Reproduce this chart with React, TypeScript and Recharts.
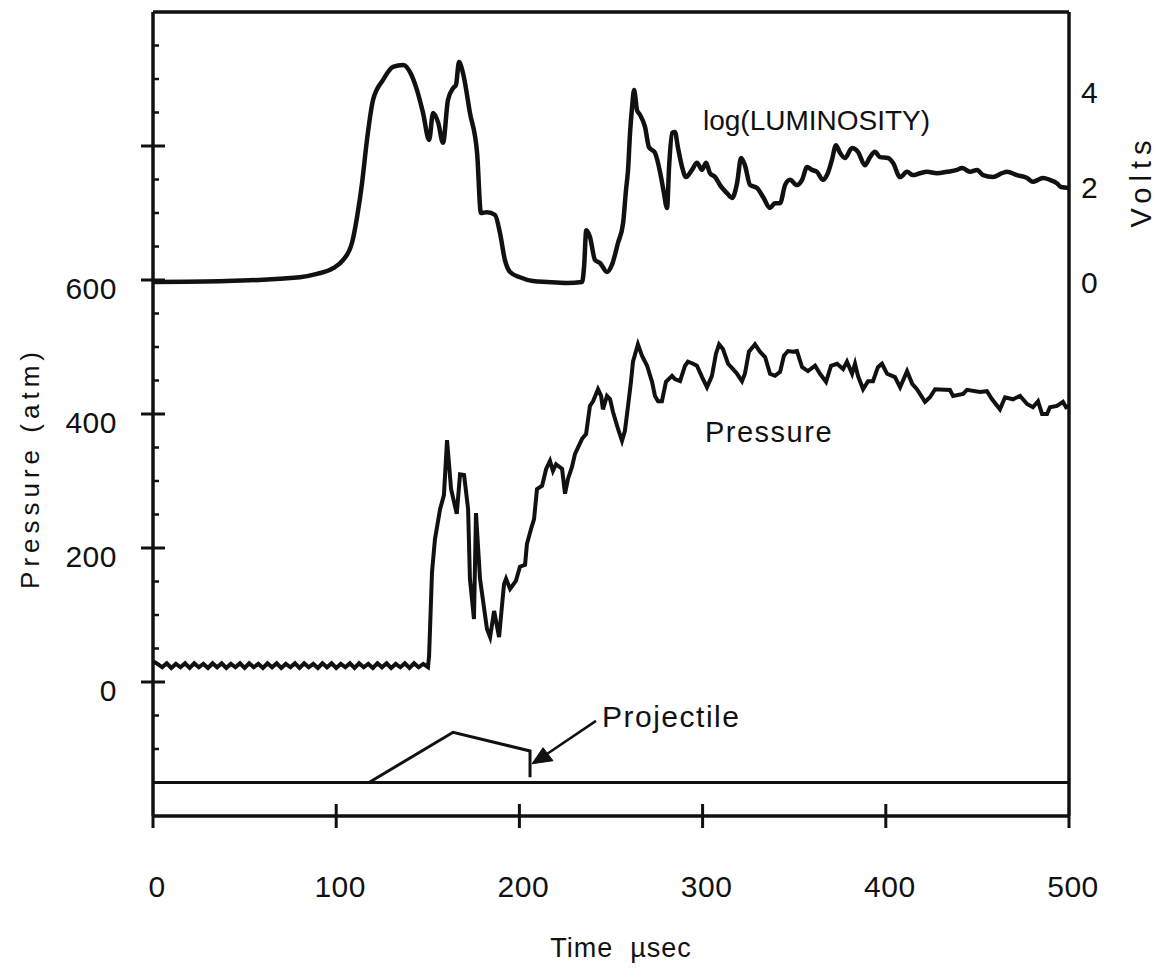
import React from "react";
import {
  LineChart,
  Line,
  XAxis,
  YAxis,
  ReferenceLine,
  ReferenceDot,
  Label,
} from "recharts";

const FONT = '"Liberation Sans", Arial, Helvetica, sans-serif';
const INK = "#111";

// axis ticks
const timeTicks = [0, 100, 200, 300, 400, 500];
const pressureTicks = [
  -100, -50, 0, 50, 100, 150, 200, 250, 300, 350, 400, 450, 500, 550, 600, 650, 700, 750, 800, 850,
  900, 950,
];
const pressureMajor = [0, 200, 400, 600, 800];
const pressureLabelled = [0, 200, 400, 600];
const voltTicks = [0, 2, 4];

// pressure trace (atm) vs time (usec)
const pressureTime = [
  0, 2.5, 5, 7.5, 10, 12.5, 15, 17.5, 20, 22.5, 25, 27.5, 30, 32.5, 35, 37.5, 40, 42.5, 45, 47.5,
  50, 52.5, 55, 57.5, 60, 62.5, 65, 67.5, 70, 72.5, 75, 77.5, 80, 82.5, 85, 87.5, 90, 92.5, 95, 97.5,
  100, 102.5, 105, 107.5, 110, 112.5, 115, 117.5, 120, 122.5, 125, 127.5, 130, 132.5, 135, 137.5,
  140, 142.5, 145, 147.5,
  150.1, 150.7, 152.3, 153.9, 156.7, 158.8, 160.5, 162.7, 165.8, 167.6, 169.8, 172.0, 173.0, 175.2,
  176.3, 178.5, 182.3, 184.0, 186.2, 188.9, 191.6, 192.7, 194.9, 198.1, 200.3, 203.1, 204.1, 206.3,
  208.0, 209.6, 212.4, 214.6, 216.7, 218.3, 220.0, 223.3, 224.9, 226.5, 228.7, 230.3, 234.2, 236.4,
  238.5, 240.2, 242.9, 244.6, 245.6, 247.8, 249.5, 251.1, 253.8, 256.0, 257.6, 259.3, 260.9, 262.0,
  264.7, 266.9, 269.7, 272.4, 274.0, 275.7, 277.8, 280.0, 283.3, 284.9, 287.7, 290.4, 292.0, 294.8,
  296.9, 299.7, 302.4, 305.1, 307.3, 309.0, 311.1, 313.9, 316.6, 318.8, 321.5, 323.1, 325.3, 328.6,
  331.3, 334.1, 336.8, 339.5, 342.3, 344.4, 346.6, 349.3, 351.5, 354.3, 357.5, 361.4, 364.1, 367.4,
  370.1, 373.4, 376.7, 378.8, 381.6, 383.2, 384.8, 387.6, 390.3, 393.0, 395.7, 397.9, 400.7, 403.4,
  405.0, 407.8, 411.6, 414.4, 417.0, 421.4, 424.1, 426.9, 435.0, 436.7, 442.2, 444.3, 451.4, 455.2,
  458.0, 462.3, 465.1, 469.4, 473.3, 477.1, 480.3, 483.1, 485.3, 488.0, 489.6, 493.4, 496.7, 498.4,
  500,
];
const pressureAtm = [
  31, 27, 22, 28, 21, 27, 22, 28, 21, 28, 22, 27, 21, 28, 22, 28, 21, 27, 22, 28,
  21, 28, 22, 27, 21, 28, 22, 28, 21, 27, 22, 28, 21, 28, 22, 27, 21, 28, 22, 28,
  21, 27, 22, 28, 21, 28, 22, 27, 21, 28, 22, 28, 21, 27, 22, 28, 21, 28, 22, 27,
  22, 39, 164, 213, 258, 279, 361, 288, 251, 310, 309, 258, 154, 94,
  252, 154, 79, 67, 106, 67, 146, 154, 139, 151, 172, 175, 206, 228,
  243, 288, 293, 318, 330, 315, 325, 318, 281, 303, 321, 340, 363, 370,
  412, 419, 437, 427, 407, 427, 422, 403, 378, 360, 375, 412, 448, 478,
  504, 487, 472, 448, 427, 419, 419, 448, 457, 452, 449, 472, 478, 475,
  472, 455, 440, 457, 490, 504, 497, 475, 467, 460, 449, 460, 493, 504,
  493, 485, 460, 457, 463, 487, 494, 493, 494, 470, 464, 472, 460, 448,
  472, 475, 467, 478, 460, 475, 457, 437, 449, 449, 470, 475, 460, 457,
  455, 440, 464, 445, 437, 418, 425, 437, 436, 427, 430, 436, 433, 434,
  422, 407, 425, 422, 427, 415, 410, 419, 400, 400, 410, 412, 418, 410,
  412,
];

// log(luminosity) trace (volts) vs time (usec)
const lumTime = [
  0, 40, 80.2, 89.5, 98.3, 103.7, 108.6, 111.4, 114.1, 116.8, 120.1, 125.5, 131.0, 136.5, 140.3,
  144.1, 147.4, 150.7, 152.9, 155.7, 158.3, 161.0, 163.8, 165.4, 167.0, 169.2, 173.0, 176.9, 179.0,
  182.3, 186.7, 189.4, 192.1, 194.9, 200.3, 207.4, 215.1, 226.0, 234.2, 235.3, 236.5, 238.5, 241.3,
  244.0, 247.8, 250.5, 253.8, 256.6, 258.2, 259.3, 260.4, 261.5, 262.6, 264.2, 265.8, 268.6, 270.7,
  274.0, 276.9, 278.6, 280.6, 281.7, 283.4, 284.9, 286.5, 288.8, 290.9, 294.2, 296.9, 299.7, 301.9,
  304.0, 306.8, 309.5, 313.3, 316.1, 318.8, 321.0, 323.1, 325.9, 329.7, 333.0, 336.8, 339.5, 342.3,
  345.0, 347.7, 351.5, 354.3, 357.0, 359.7, 362.4, 365.7, 367.9, 370.6, 372.8, 375.0, 377.7, 381.6,
  384.8, 388.6, 391.4, 394.1, 396.8, 401.2, 403.9, 407.8, 411.6, 414.8, 418.7, 422.5, 427.9, 433.4,
  438.9, 441.6, 446.0, 449.8, 453.1, 458.5, 463.4, 466.2, 471.6, 477.1, 480.3, 483.1, 485.8, 489.6,
  493.4, 495.6, 500,
];
const lumVolts = [
  0, 0.02, 0.1, 0.17, 0.29, 0.46, 0.82, 1.37, 2.08, 2.99, 3.83, 4.25, 4.53, 4.57, 4.42,
  4.04, 3.56, 2.99, 3.56, 3.35, 2.93, 3.83, 4.08, 4.15, 4.63, 4.4, 3.56, 2.72, 1.45,
  1.47, 1.41, 1.03, 0.46, 0.21, 0.1, 0.02, 0, -0.02, 0, 0.32, 1.09, 0.95, 0.46,
  0.4, 0.21, 0.36, 0.82, 1.24, 1.94, 2.36, 3.14, 3.68, 4.04, 3.62, 3.52, 3.26, 2.84,
  2.72, 2.29, 1.94, 1.56, 2.42, 3.14, 3.16, 2.84, 2.42, 2.21, 2.36, 2.51, 2.36, 2.51,
  2.29, 2.21, 2.04, 1.87, 1.77, 2.08, 2.61, 2.46, 2.04, 1.98, 1.79, 1.56, 1.66, 1.66,
  2.04, 2.15, 2.04, 2.15, 2.42, 2.36, 2.32, 2.15, 2.25, 2.57, 2.88, 2.72, 2.61, 2.82,
  2.74, 2.46, 2.63, 2.74, 2.63, 2.61, 2.51, 2.21, 2.32, 2.25, 2.29, 2.32, 2.29, 2.32,
  2.36, 2.4, 2.32, 2.36, 2.25, 2.21, 2.29, 2.32, 2.25, 2.19, 2.11, 2.15, 2.19, 2.15,
  2.08, 2.0, 1.98,
];

// projectile trace, drawn on the pressure scale
const projTime = [117.9, 163.8, 205.8, 205.8];
const projAtm = [-150, -75, -103, -142];
const projBaseline = -150;

const pressureData = pressureTime.map((t, i) => ({ t, p: pressureAtm[i] }));
const lumData = lumTime.map((t, i) => ({ t, v: lumVolts[i] }));
const projData = projTime.map((t, i) => ({ t, p: projAtm[i] }));

const textStyle = { fontFamily: FONT, fill: INK } as const;

function PressureTick(props: any) {
  const { x, y, payload } = props;
  const v = payload.value;
  const major = pressureMajor.includes(v);
  return (
    <g>
      {major ? (
        <line x1={x - 12} x2={x + 12} y1={y} y2={y} stroke={INK} strokeWidth={3} />
      ) : (
        <line x1={x} x2={x + 6} y1={y} y2={y} stroke={INK} strokeWidth={2.5} />
      )}
      {pressureLabelled.includes(v) && (
        <text x={x - 36} y={y + 19} textAnchor="end" fontSize={30} letterSpacing={0.5} {...textStyle}>
          {v}
        </text>
      )}
    </g>
  );
}

function VoltTick(props: any) {
  const { x, y, payload } = props;
  return (
    <text x={x + 12} y={y + 11} textAnchor="start" fontSize={30} {...textStyle}>
      {payload.value}
    </text>
  );
}

function TimeTick(props: any) {
  const { x, y, payload } = props;
  const v = payload.value;
  const edge = v === 0 || v === 500;
  return (
    <g>
      <line x1={x} x2={x} y1={edge ? y : y - 12} y2={y + 12} stroke={INK} strokeWidth={3} />
      <text x={x + 4} y={y + 81} textAnchor="middle" fontSize={30} letterSpacing={0.5} {...textStyle}>
        {v}
      </text>
    </g>
  );
}

const pressureTitle = () => (
  <text
    x={30}
    y={468}
    transform="rotate(-90, 30, 468)"
    textAnchor="middle"
    dominantBaseline="central"
    fontSize={26}
    letterSpacing={5}
    {...textStyle}
  >
    Pressure (atm)
  </text>
);

const voltsTitle = () => (
  <text
    x={1141}
    y={181}
    transform="rotate(-90, 1141, 181)"
    textAnchor="middle"
    dominantBaseline="central"
    fontSize={29}
    letterSpacing={6}
    {...textStyle}
  >
    Volts
  </text>
);

const timeTitle = () => (
  <text x={621} y={957} textAnchor="middle" fontSize={27} letterSpacing={1} style={{ whiteSpace: "pre" }} {...textStyle}>
    {"Time  \u00b5sec"}
  </text>
);

const textShape = (label: string, size: number, spacing: number) => (p: any) => (
  <text x={p.cx} y={p.cy} fontSize={size} letterSpacing={spacing} {...textStyle}>
    {label}
  </text>
);

const arrowHead = (p: any) => (
  <polygon
    points={`${p.cx},${p.cy} ${p.cx + 21},${p.cy - 3} ${p.cx + 11},${p.cy - 16}`}
    fill={INK}
    stroke={INK}
    strokeWidth={1}
  />
);

export default function App() {
  return (
    <div style={{ position: "absolute", left: 0, top: 0, width: 1158, height: 972, background: "#fff" }}>
      <LineChart width={1158} height={972} margin={{ top: 12, right: 29, bottom: 126, left: 93 }}>
        <XAxis
          dataKey="t"
          type="number"
          domain={[0, 500]}
          ticks={timeTicks}
          interval={0}
          allowDataOverflow
          height={30}
          tickSize={0}
          tickMargin={0}
          tickLine={false}
          tick={<TimeTick />}
          axisLine={{ stroke: INK, strokeWidth: 3.5 }}
        >
          <Label content={timeTitle} />
        </XAxis>
        <YAxis
          yAxisId="p"
          type="number"
          domain={[-200, 1000]}
          ticks={pressureTicks}
          interval={0}
          allowDataOverflow
          width={60}
          tickSize={0}
          tickMargin={0}
          tickLine={false}
          tick={<PressureTick />}
          axisLine={{ stroke: INK, strokeWidth: 3.5 }}
        >
          <Label content={pressureTitle} />
        </YAxis>
        <YAxis
          yAxisId="v"
          orientation="right"
          type="number"
          domain={[-11.242, 5.684]}
          ticks={voltTicks}
          interval={0}
          allowDataOverflow
          width={60}
          tickSize={0}
          tickMargin={0}
          tickLine={false}
          tick={<VoltTick />}
          axisLine={false}
        >
          <Label content={voltsTitle} />
        </YAxis>

        {/* frame: top edge and right edge */}
        <ReferenceLine yAxisId="p" y={1000} stroke={INK} strokeWidth={3.5} />
        <ReferenceLine yAxisId="p" x={500} stroke={INK} strokeWidth={3.5} />
        <ReferenceLine yAxisId="p" y={projBaseline} stroke={INK} strokeWidth={3} />

        <Line
          yAxisId="v"
          data={lumData}
          dataKey="v"
          type="monotone"
          stroke={INK}
          strokeWidth={4.5}
          dot={false}
          isAnimationActive={false}
        />
        <Line
          yAxisId="p"
          data={pressureData}
          dataKey="p"
          type="linear"
          stroke={INK}
          strokeWidth={4}
          dot={false}
          isAnimationActive={false}
        />
        <Line
          yAxisId="p"
          data={projData}
          dataKey="p"
          type="linear"
          stroke={INK}
          strokeWidth={3}
          dot={false}
          isAnimationActive={false}
        />

        {/* annotations */}
        <ReferenceLine
          yAxisId="p"
          segment={[
            { x: 241.8, y: -58 },
            { x: 212, y: -113 },
          ]}
          stroke={INK}
          strokeWidth={2.5}
        />
        <ReferenceDot yAxisId="p" x={206.9} y={-122} r={0} shape={arrowHead} />
        <ReferenceDot yAxisId="p" x={245.1} y={-67} r={0} shape={textShape("Projectile", 30, 1.5)} />
        <ReferenceDot yAxisId="p" x={301.3} y={358} r={0} shape={textShape("Pressure", 29, 1.5)} />
        <ReferenceDot yAxisId="v" x={300.2} y={3.2} r={0} shape={textShape("log(LUMINOSITY)", 28, 0)} />
      </LineChart>
    </div>
  );
}
